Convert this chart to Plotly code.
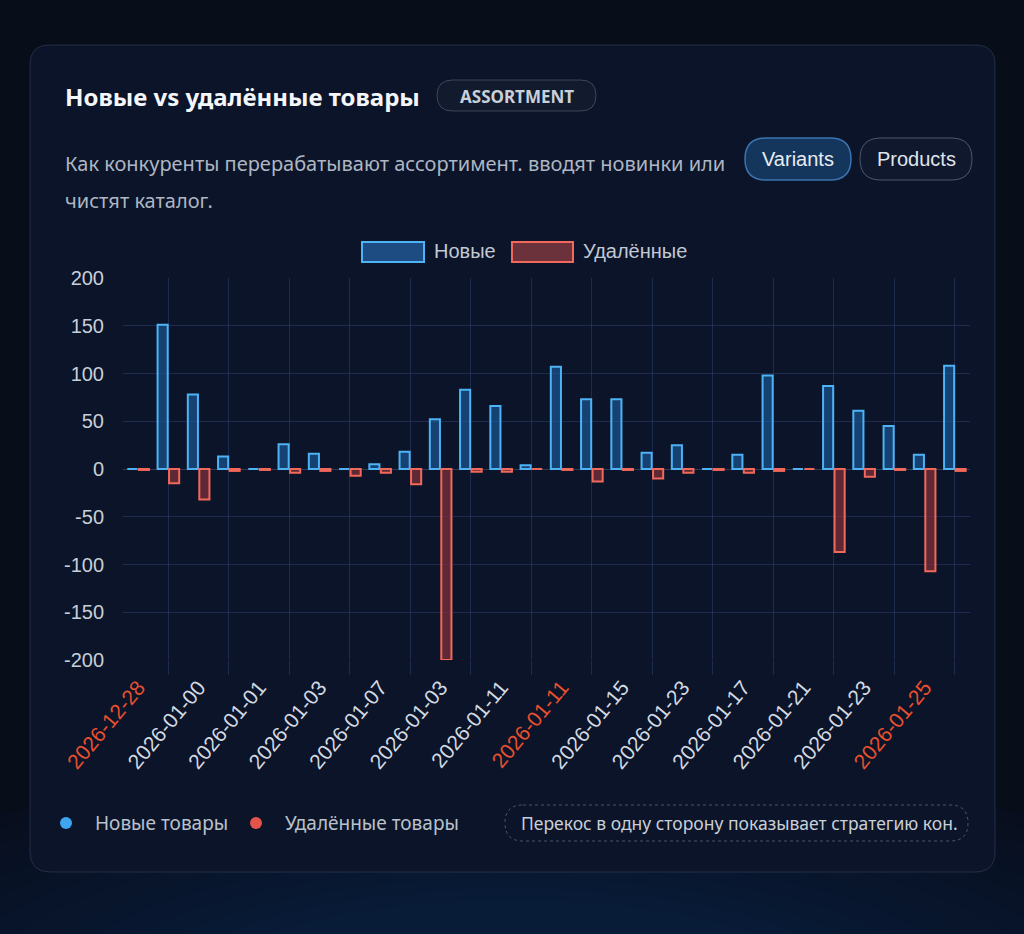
import plotly.graph_objects as go

# ---------------- data ----------------
dates = [
    "2025-12-28", "2025-12-29", "2025-12-30", "2025-12-31", "2026-01-01", "2026-01-02", "2026-01-03",
    "2026-01-04", "2026-01-05", "2026-01-06", "2026-01-07", "2026-01-08", "2026-01-09", "2026-01-10",
    "2026-01-11", "2026-01-12", "2026-01-13", "2026-01-14", "2026-01-15", "2026-01-16", "2026-01-17",
    "2026-01-18", "2026-01-19", "2026-01-20", "2026-01-21", "2026-01-22", "2026-01-23", "2026-01-24",
]
tick_labels = [
    "2026-12-28", "2026-01-00", "2026-01-01", "2026-01-03", "2026-01-07", "2026-01-03", "2026-01-11",
    "2026-01-11", "2026-01-15", "2026-01-23", "2026-01-17", "2026-01-21", "2026-01-23", "2026-01-25",
]
highlight_labels = [0, 7, 13]  # label positions drawn in red

new_items = [0, 151, 78, 13, 0, 26, 16, 0, 5, 18, 52, 83, 66, 4,
             107, 73, 73, 17, 25, 0, 15, 98, 0, 87, 61, 45, 15, 108]
removed_items = [-1, -15, -32, -2, -1, -4, -2, -7, -4, -16, -200, -3, -3, 0,
                 -1, -13, -1, -10, -4, -1, -4, -2, 0, -87, -8, -1, -107, -2]

y_ticks = [200, 150, 100, 50, 0, -50, -100, -150, -200]
y_tick_text = ["200", "150", "100", "50", "0", "-50", "-100", "-150", "-200"]

title_text = "Новые vs удалённые товары"
badge_text = "ASSORTMENT"
subtitle_1 = "Как конкуренты перерабатывают ассортимент. вводят новинки или"
subtitle_2 = "чистят каталог."
btn_1 = "Variants"
btn_2 = "Products"
legend_new = "Новые"
legend_removed = "Удалённые"
foot_new = "Новые товары"
foot_removed = "Удалённые товары"
foot_note = "Перекос в одну сторону показывает стратегию кон."

# ---------------- geometry helpers ----------------
W, H = 1024, 934
L, R, T, B = 123, 54, 278, 274
PW, PH = W - L - R, H - T - B


def px(x):
    return (x - L) / PW


def py(y):
    return (H - B - y) / PH


def rrect(x0, y0, x1, y1, r):
    pts = [
        ("M", (x0 + r, y0)), ("L", (x1 - r, y0)), ("Q", (x1, y0), (x1, y0 + r)),
        ("L", (x1, y1 - r)), ("Q", (x1, y1), (x1 - r, y1)), ("L", (x0 + r, y1)),
        ("Q", (x0, y1), (x0, y1 - r)), ("L", (x0, y0 + r)), ("Q", (x0, y0), (x0 + r, y0)),
    ]
    s = ""
    for p in pts:
        cmd = p[0]
        coords = " ".join(f"{px(a):.5f},{py(b):.5f}" for a, b in p[1:])
        s += f"{cmd}{coords} "
    return s + "Z"


GRID = "rgba(70,100,170,0.30)"
BLUE_LINE = "#4db3f5"
BLUE_FILL = "rgba(30,95,165,0.60)"
RED_LINE = "#f2685a"
RED_FILL = "rgba(140,50,58,0.65)"

ticktext = []
for i, t in enumerate(tick_labels):
    if i in highlight_labels:
        ticktext.append(f"<span style='color:#e9502f'>{t}</span>")
    else:
        ticktext.append(t)

fig = go.Figure()
fig.add_trace(go.Bar(x=dates, y=new_items, name=legend_new,
                     marker=dict(color=BLUE_FILL, line=dict(color=BLUE_LINE, width=2)),
                     showlegend=False))
fig.add_trace(go.Bar(x=dates, y=removed_items, name=legend_removed,
                     marker=dict(color=RED_FILL, line=dict(color=RED_LINE, width=2)),
                     showlegend=False))
# invisible helper trace carrying the secondary (grid) x-axis
fig.add_trace(go.Scatter(x=dates, y=new_items, xaxis="x2", mode="markers",
                         marker=dict(opacity=0), hoverinfo="skip", showlegend=False))

shapes = []
# background glow (many faint layers for a soft gradient)
n_layers = 14
for k in range(n_layers):
    f = 1 - k / n_layers
    rx = 260 + 520 * f
    ry = 70 + 150 * f
    shapes.append(dict(type="circle", xref="paper", yref="paper", layer="below",
                       x0=px(512 - rx), x1=px(512 + rx), y0=py(980 - ry), y1=py(980 + ry),
                       fillcolor="rgba(22,55,115,0.035)", line=dict(width=0)))
# card
shapes.append(dict(type="path", xref="paper", yref="paper", layer="below",
                   path=rrect(30, 45, 995, 872, 20), fillcolor="#0b1428",
                   line=dict(color="rgba(130,150,190,0.22)", width=1)))
# badge
shapes.append(dict(type="path", xref="paper", yref="paper", layer="below",
                   path=rrect(437, 80, 596, 111, 15.5), fillcolor="rgba(255,255,255,0.03)",
                   line=dict(color="rgba(200,210,225,0.25)", width=1)))
# buttons
shapes.append(dict(type="path", xref="paper", yref="paper", layer="below",
                   path=rrect(745, 138, 851, 180, 21), fillcolor="#15365c",
                   line=dict(color="#3b74b0", width=1.5)))
shapes.append(dict(type="path", xref="paper", yref="paper", layer="below",
                   path=rrect(860, 138, 972, 180, 21), fillcolor="rgba(255,255,255,0.02)",
                   line=dict(color="rgba(200,210,225,0.35)", width=1)))
# top legend swatches
shapes.append(dict(type="rect", xref="paper", yref="paper",
                   x0=px(362), x1=px(424), y0=py(262), y1=py(242),
                   fillcolor="rgba(36,95,160,0.75)", line=dict(color=BLUE_LINE, width=2)))
shapes.append(dict(type="rect", xref="paper", yref="paper",
                   x0=px(512), x1=px(573), y0=py(262), y1=py(242),
                   fillcolor="rgba(125,55,62,0.85)", line=dict(color=RED_LINE, width=2)))
# footer dots
shapes.append(dict(type="circle", xref="paper", yref="paper",
                   x0=px(60), x1=px(72), y0=py(829), y1=py(817),
                   fillcolor="#3ea5ef", line=dict(width=0)))
shapes.append(dict(type="circle", xref="paper", yref="paper",
                   x0=px(250), x1=px(262), y0=py(829), y1=py(817),
                   fillcolor="#e5544b", line=dict(width=0)))
# footer dashed pill
shapes.append(dict(type="path", xref="paper", yref="paper",
                   path=rrect(505, 805, 968, 841, 18), fillcolor="rgba(0,0,0,0)",
                   line=dict(color="rgba(200,210,225,0.35)", width=1, dash="dot")))

SANS = "Noto Sans"
ann = []


def text(x, y, s, size, color, xanchor="left", family=SANS, bold=False):
    ann.append(dict(xref="paper", yref="paper", x=px(x), y=py(y), text=(f"<b>{s}</b>" if bold else s),
                    showarrow=False, xanchor=xanchor, yanchor="middle",
                    font=dict(size=size, color=color, family=family)))


text(63, 96, title_text, 24, "#f4f6fa", bold=True)
text(516.5, 96, badge_text, 17, "#c9d0da", xanchor="center", bold=True)
text(63, 163, subtitle_1, 20, "#aeb6c3")
text(63, 200, subtitle_2, 20, "#aeb6c3")
text(798, 159, btn_1, 20, "#e8edf3", xanchor="center", family="Liberation Sans")
text(916, 159, btn_2, 20, "#e0e5ec", xanchor="center", family="Liberation Sans")
text(432, 251, legend_new, 20, "#c2c9d4", family="Liberation Sans")
text(581, 251, legend_removed, 20, "#c2c9d4", family="Liberation Sans")
text(93, 823, foot_new, 19, "#b9c1cc")
text(283, 823, foot_removed, 19, "#b9c1cc")
text(519, 823, foot_note, 17.5, "#c9cfd9")

fig.update_layout(
    width=W, height=H,
    margin=dict(l=L, r=R, t=T, b=B, pad=0),
    paper_bgcolor="#080d1a",
    plot_bgcolor="rgba(0,0,0,0)",
    barmode="group", bargap=0.24, bargroupgap=0.12,
    shapes=shapes, annotations=ann,
    showlegend=False,
    xaxis=dict(type="category", categoryorder="array", categoryarray=dates,
               range=[-0.5, len(dates) - 0.5],
               tickmode="array", tickvals=dates[0::2], ticktext=ticktext,
               tickangle=-50, showgrid=False, zeroline=False, showline=False, ticks="",
               ticklabelstandoff=10,
               tickfont=dict(size=21, color="#d3d9e2", family="Liberation Sans")),
    xaxis2=dict(type="category", categoryorder="array", categoryarray=dates,
                overlaying="x", anchor="y", side="bottom",
                range=[-0.5, len(dates) - 0.5],
                tickmode="array", tickvals=dates[1::2], showticklabels=False,
                showgrid=True, gridcolor=GRID, gridwidth=1,
                ticks="outside", ticklen=14, tickcolor=GRID, tickwidth=1,
                zeroline=False, showline=False),
    yaxis=dict(range=[-200, 200], tickmode="array", tickvals=y_ticks, ticktext=y_tick_text,
               showgrid=True, gridcolor=GRID, gridwidth=1,
               zeroline=True, zerolinecolor="rgba(120,130,160,0.35)", zerolinewidth=1,
               showline=False, ticks="", ticklabelstandoff=18,
               tickfont=dict(size=20, color="#c8cfd9", family="Liberation Sans")),
    hovermode=False,
)

fig.write_html("out.html")
